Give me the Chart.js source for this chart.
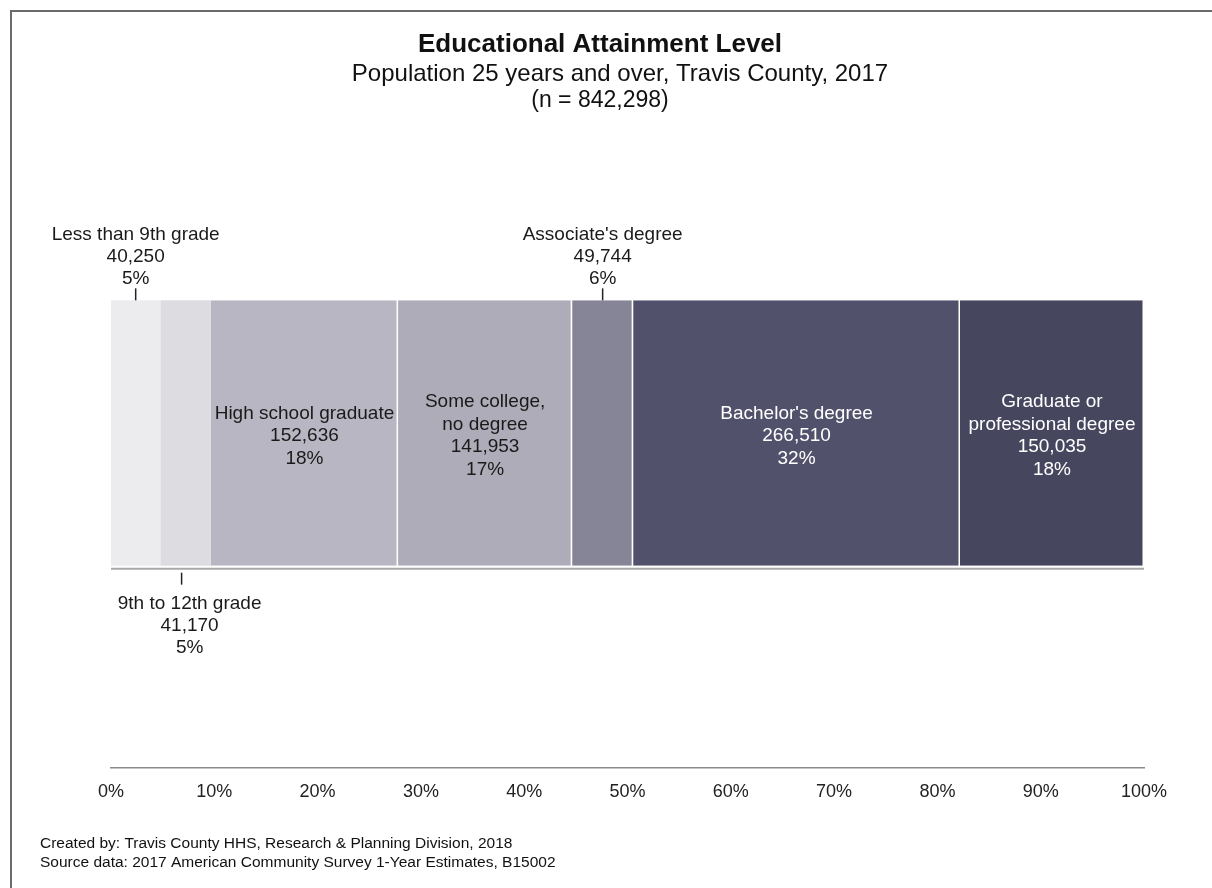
<!DOCTYPE html>
<html>
<head>
<meta charset="utf-8">
<title>Educational Attainment Level</title>
<script src="https://cdn.jsdelivr.net/npm/chart.js@4/dist/chart.umd.min.js"></script>
<style>
  body { margin: 0; background: #fff; }
  #wrap { width: 1212px; height: 888px; position: relative; }
</style>
</head>
<body>
<div id="wrap"><canvas id="eduChart" width="1212" height="888"></canvas></div>
<script>
const categories = ['Less than 9th grade', '9th to 12th grade', 'High school graduate', 'Some college, no degree',
  "Associate's degree", "Bachelor's degree", 'Graduate or professional degree'];
const labelLines = [['Less than 9th grade'], ['9th to 12th grade'], ['High school graduate'], ['Some college,', 'no degree'],
  ["Associate's degree"], ["Bachelor's degree"], ['Graduate or', 'professional degree']];
const counts = [40250, 41170, 152636, 141953, 49744, 266510, 150035];
const xTicks = [0, 10, 20, 30, 40, 50, 60, 70, 80, 90, 100];

const barColors = ['#ececef', '#dcdce1', '#b7b6c2', '#adacb8', '#868597', '#52516b', '#47465f'];
const labelColors = ['#1a1a1a', '#1a1a1a', '#1a1a1a', '#1a1a1a', '#1a1a1a', '#ffffff', '#ffffff'];
const labelPlace = ['above', 'below', 'inside', 'inside', 'above', 'inside', 'inside'];

const FONT = '"Liberation Sans", Arial, sans-serif';
const total = counts.reduce((a, b) => a + b, 0);
const shares = counts.map(c => c / total * 100);

function fmt(n) {
  return n.toLocaleString('en-US');
}

// frame, titles and footer notes
const decorPlugin = {
  id: 'decor',
  beforeDraw(chart) {
    const ctx = chart.ctx;
    ctx.save();
    ctx.fillStyle = '#fff';
    ctx.fillRect(0, 0, chart.width, chart.height);
    ctx.strokeStyle = '#6b6b6b';
    ctx.lineWidth = 2;
    ctx.beginPath();
    ctx.moveTo(11, chart.height);
    ctx.lineTo(11, 11);
    ctx.lineTo(chart.width, 11);
    ctx.stroke();

    ctx.fillStyle = '#111';
    ctx.textAlign = 'center';
    ctx.textBaseline = 'middle';
    ctx.font = 'bold 26px ' + FONT;
    ctx.fillText('Educational Attainment Level', 600, 45);
    ctx.font = '24px ' + FONT;
    ctx.fillText('Population 25 years and over, Travis County, 2017', 620, 74);
    ctx.font = '23px ' + FONT;
    ctx.fillText('(n = ' + fmt(total) + ')', 600, 101);

    ctx.textAlign = 'left';
    ctx.font = '15.5px ' + FONT;
    ctx.fillText('Created by: Travis County HHS, Research & Planning Division, 2018', 40, 844);
    ctx.fillText('Source data: 2017 American Community Survey 1-Year Estimates, B15002', 40, 863);
    ctx.restore();
  }
};

// value labels, leader ticks and the floor line under the bar
const barLabelPlugin = {
  id: 'barLabels',
  afterDatasetsDraw(chart) {
    const ctx = chart.ctx;
    const area = chart.chartArea;
    ctx.save();
    ctx.font = '19px ' + FONT;
    ctx.textAlign = 'center';
    ctx.textBaseline = 'middle';

    const first = chart.getDatasetMeta(0).data[0].getProps(['y', 'height'], true);
    const floorY = first.y + first.height / 2 + 3;
    ctx.strokeStyle = '#a8a8a8';
    ctx.lineWidth = 2;
    ctx.beginPath();
    ctx.moveTo(area.left, floorY);
    ctx.lineTo(area.right, floorY);
    ctx.stroke();

    chart.data.datasets.forEach((ds, i) => {
      const bar = chart.getDatasetMeta(i).data[0].getProps(['x', 'base', 'y', 'height'], true);
      const cx = (bar.x + bar.base) / 2;
      const top = bar.y - bar.height / 2;
      const bottom = bar.y + bar.height / 2;
      const lines = labelLines[i].concat([fmt(counts[i]), Math.round(shares[i]) + '%']);
      let y0, lh = 22;
      ctx.fillStyle = labelColors[i];
      ctx.strokeStyle = '#222';
      ctx.lineWidth = 1.5;
      if (labelPlace[i] === 'inside') {
        lh = 22.5;
        y0 = bar.y + 3 - (lines.length - 1) * lh / 2;
      } else if (labelPlace[i] === 'above') {
        y0 = top - 22 - (lines.length - 1) * lh;
        ctx.beginPath();
        ctx.moveTo(cx, top - 12);
        ctx.lineTo(cx, top);
        ctx.stroke();
      } else {
        y0 = bottom + 38;
        ctx.beginPath();
        ctx.moveTo(cx - 4, bottom + 7);
        ctx.lineTo(cx - 4, bottom + 19);
        ctx.stroke();
      }
      lines.forEach((t, k) => ctx.fillText(t, cx + (labelPlace[i] === 'below' ? 4 : 0), y0 + k * lh));
    });
    ctx.restore();
  }
};

const ctx = document.getElementById('eduChart').getContext('2d');
new Chart(ctx, {
  type: 'bar',
  data: {
    labels: ['Travis County'],
    datasets: categories.map((name, i) => ({
      label: name,
      data: [shares[i]],
      backgroundColor: barColors[i],
      borderColor: '#ffffff',
      borderWidth: { left: 0, right: i < 2 ? 0 : 1.5, top: 0, bottom: 0 },
      borderSkipped: false,
      barPercentage: 1,
      categoryPercentage: 0.396,
      stack: 'edu'
    }))
  },
  options: {
    indexAxis: 'y',
    responsive: false,
    animation: false,
    layout: { padding: { left: 111, right: 68, top: 98, bottom: 80 } },
    plugins: {
      legend: { display: false },
      title: { display: false },
      tooltip: { enabled: false }
    },
    scales: {
      x: {
        stacked: true,
        min: 0,
        max: 100,
        afterBuildTicks: s => { s.ticks = xTicks.map(v => ({ value: v })); },
        afterFit: s => { s.height = 40; },
        grid: { display: false, drawTicks: false },
        border: { display: true, color: '#8a8a8a', width: 1.5 },
        ticks: {
          padding: 13,
          color: '#222',
          font: { family: FONT, size: 18 },
          maxRotation: 0,
          callback: v => v + '%'
        }
      },
      y: {
        stacked: true,
        display: false
      }
    }
  },
  plugins: [decorPlugin, barLabelPlugin]
});
</script>
</body>
</html>
